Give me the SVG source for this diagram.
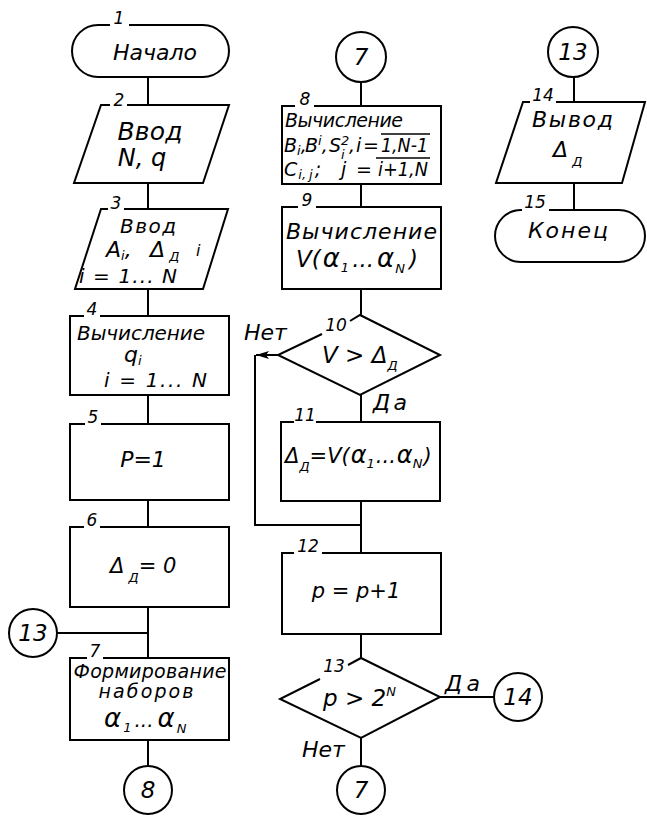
<svg xmlns="http://www.w3.org/2000/svg" width="647" height="818" viewBox="0 0 647 818">
<defs>
<style>
.s{fill:none;stroke:#000;stroke-width:2}
.t{font-family:"DejaVu Sans","Liberation Sans",sans-serif;font-style:italic;font-size:20px;fill:#000}
.m{text-anchor:middle}
.n{font-family:"DejaVu Sans","Liberation Sans",sans-serif;font-style:italic;font-size:17px;fill:#000;text-anchor:middle}
.c{font-family:"DejaVu Sans","Liberation Sans",sans-serif;font-style:italic;font-size:23px;fill:#000;text-anchor:middle}
.sm{font-size:13px}
.a{font-size:26px}
.b{font-size:19px}
.l{font-size:22px}
.ol{fill:none;stroke:#000;stroke-width:1.3}
</style>
<marker id="ah" markerWidth="14" markerHeight="10" refX="13" refY="5" orient="auto" markerUnits="userSpaceOnUse">
<path d="M0,1 L13,5 L0,9 L3,5 Z" fill="#000"/>
</marker>
</defs>
<rect width="647" height="818" fill="#fff"/>

<g id="connectors" class="s">
<path d="M148,77 V105 M148,183 V209 M148,289 V316 M148,395 V424 M148,500 V527 M148,607 V658 M57,633 H148 M148,740 V766"/>
<path d="M361,82 V106 M361,184 V207 M361,289 V315 M361,395 V422 M361,501 V553 M361,634 V658 M361,738 V766 M440,697 H494"/>
<path d="M278,355 H256" marker-end="url(#ah)"/>
<path d="M255,355 V525 H361"/>
<path d="M574,77 V102 M574,183 V210"/>
</g>

<g id="n1">
<path class="s" d="M129,25 H203 A26,26 0 0 1 203,77 H98 A26,26 0 0 1 98,25 H110"/>
<text class="n" x="119" y="24">1</text>
<text class="t m" x="155" y="60" style="font-size:22px" textLength="84">Начало</text>
</g>

<g id="n2">
<path class="s" d="M127,105 H229 L203,183 H74 L101,105 H110"/>
<text class="n" x="119" y="106">2</text>
<text class="t m" x="150" y="140" style="font-size:25px" textLength="65">Ввод</text>
<text class="t m" x="142" y="166" style="font-size:24px">N, q</text>
</g>

<g id="n3">
<path class="s" d="M124,209 H228 L203,289 H75 L101,209 H108"/>
<text class="n" x="116" y="209">3</text>
<text class="t m" x="148" y="233" textLength="56">Ввод</text>
<text class="t l" x="106" y="257">A<tspan class="sm" dy="3">i</tspan><tspan dy="-3">,</tspan></text>
<text class="t l" x="150" y="257">Δ<tspan class="sm" dy="4"> Д</tspan></text>
<text class="t" x="196" y="256" style="font-size:16px">i</text>
<text class="t" x="79" y="283" textLength="98">i = 1... N</text>
</g>

<g id="n4">
<path class="s" d="M100,316 H229 V395 H70 V316 H84"/>
<text class="n" x="92" y="315">4</text>
<text class="t" x="77" y="340" textLength="128">Вычисление</text>
<text class="t l" x="124" y="362">q<tspan class="sm" dy="3">i</tspan></text>
<text class="t" x="104" y="387" textLength="103">i = 1... N</text>
</g>

<g id="n5">
<path class="s" d="M101,424 H229 V500 H70 V424 H85"/>
<text class="n" x="93" y="423">5</text>
<text class="t m" x="143" y="467" style="font-size:22px">P=1</text>
</g>

<g id="n6">
<path class="s" d="M100,527 H229 V607 H70 V527 H84"/>
<text class="n" x="92" y="526">6</text>
<text class="t" x="110" y="573" style="font-size:21px">Δ<tspan class="sm" dy="9"> Д</tspan><tspan dy="-9">= 0</tspan></text>
</g>

<g id="n7">
<path class="s" d="M103,658 H229 V740 H70 V658 H87"/>
<text class="n" x="95" y="657">7</text>
<text class="t m" x="150" y="678" style="font-size:19px" textLength="153">Формирование</text>
<text class="t m" x="146" y="698" style="font-size:19px" textLength="95">наборов</text>
<text class="t" x="104" y="727"><tspan class="a">α</tspan><tspan class="sm" dx="2" dy="5">1</tspan><tspan dx="3" dy="-5">...</tspan><tspan class="a" dx="4">α</tspan><tspan class="sm" dx="2" dy="6">N</tspan></text>
</g>

<g id="c13a">
<circle class="s" cx="33" cy="633" r="24"/>
<text class="c" x="33" y="641">13</text>
</g>

<g id="c8">
<circle class="s" cx="148" cy="790" r="24"/>
<text class="c" x="148" y="798">8</text>
</g>

<g id="c7a">
<circle class="s" cx="361" cy="57" r="25"/>
<text class="c" x="361" y="65">7</text>
</g>

<g id="n8">
<path class="s" d="M314,106 H441 V184 H282 V106 H295"/>
<text class="n" x="305" y="105">8</text>
<text class="t" x="285" y="127" style="font-size:19px" textLength="118">Вычисление</text>
<text class="t b" x="284" y="152">B<tspan class="sm" dy="3">i</tspan><tspan dy="-3">,</tspan></text>
<text class="t b" x="305" y="152">B<tspan class="sm" dy="-7">i</tspan><tspan dy="7">,</tspan></text>
<text class="t b" x="329" y="152">S<tspan class="sm" dy="-7">2</tspan></text>
<text class="t sm" x="341" y="159">i</text>
<text class="t b" x="349" y="152">,</text>
<text class="t b" x="356" y="152" textLength="23">i=</text>
<text class="t b" x="381" y="152" textLength="47" lengthAdjust="spacingAndGlyphs">1,N-1</text>
<path class="ol" d="M381,134 H430"/>
<text class="t b" x="284" y="176">C<tspan class="sm" dx="1" dy="3">i,</tspan><tspan class="sm" dx="3">j</tspan><tspan dx="2" dy="-3">;</tspan></text>
<text class="t b" x="341" y="176" textLength="31">j =</text>
<text class="t b" x="378" y="176" textLength="50" lengthAdjust="spacingAndGlyphs">i+1,N</text>
<path class="ol" d="M376,158 H430"/>
</g>

<g id="n9">
<path class="s" d="M316,207 H441 V289 H282 V207 H298"/>
<text class="n" x="307" y="206">9</text>
<text class="t" x="286" y="239" style="font-size:22px" textLength="151">Вычисление</text>
<text class="t" x="296" y="267" style="font-size:23px">V(<tspan class="a" dx="2">α</tspan><tspan class="sm" dx="1" dy="5">1</tspan><tspan dx="3" dy="-5">...</tspan><tspan class="a" dx="3">α</tspan><tspan class="sm" dx="1" dy="6">N</tspan><tspan dx="4" dy="-6">)</tspan></text>
</g>

<g id="n10">
<path class="s" d="M322,334 L278,355 L360,395 L440,355 L360,315 L350,321"/>
<text class="n" x="336" y="331">10</text>
<text class="t" x="322" y="363" style="font-size:23px">V &gt; Δ<tspan class="sm" dy="7">Д</tspan></text>
<text class="t l" x="244" y="340">Нет</text>
<text class="t l" x="373" y="410" textLength="34">Да</text>
</g>

<g id="n11">
<path class="s" d="M316,422 H440 V501 H281 V422 H294"/>
<text class="n" x="305" y="421">11</text>
<text class="t" x="285" y="463" style="font-size:21px">Δ<tspan class="sm" dy="8">Д</tspan><tspan dy="-8">=V(</tspan><tspan style="font-size:24px" dx="1">α</tspan><tspan class="sm" dy="5">1</tspan><tspan dx="1" dy="-5">...</tspan><tspan style="font-size:24px" dx="1">α</tspan><tspan class="sm" dy="5">N</tspan><tspan dx="1" dy="-5">)</tspan></text>
</g>

<g id="n12">
<path class="s" d="M322,553 H441 V634 H282 V553 H294"/>
<text class="n" x="308" y="552">12</text>
<text class="t m" x="356" y="598" style="font-size:21px">p = p+1</text>
</g>

<g id="n13">
<path class="s" d="M320,679 L280,699 L361,738 L440,697 L361,658 L348,665"/>
<text class="n" x="334" y="672">13</text>
<text class="t" x="323" y="706" style="font-size:23px">p &gt; 2<tspan class="sm" dy="-10">N</tspan></text>
<text class="t l" x="445" y="691" textLength="35">Да</text>
<text class="t l" x="302" y="757">Нет</text>
</g>

<g id="c14">
<circle class="s" cx="518" cy="697" r="24"/>
<text class="c" x="518" y="705">14</text>
</g>

<g id="c7b">
<circle class="s" cx="361" cy="790" r="24"/>
<text class="c" x="361" y="798">7</text>
</g>

<g id="c13b">
<circle class="s" cx="573" cy="52" r="25"/>
<text class="c" x="573" y="60">13</text>
</g>

<g id="n14">
<path class="s" d="M556,102 H645 L622,183 H496 L523,102 H530"/>
<text class="n" x="543" y="101">14</text>
<text class="t" x="532" y="127" style="font-size:22px" textLength="81">Вывод</text>
<text class="t l" x="553" y="157">Δ<tspan class="sm" dy="9"> Д</tspan></text>
</g>

<g id="n15">
<path class="s" d="M549,210 H619 A26,26 0 0 1 619,262 H521 A26,26 0 0 1 521,210 H522"/>
<text class="n" x="535" y="208">15</text>
<text class="t" x="528" y="238" style="font-size:22px" textLength="80">Конец</text>
</g>
</svg>
